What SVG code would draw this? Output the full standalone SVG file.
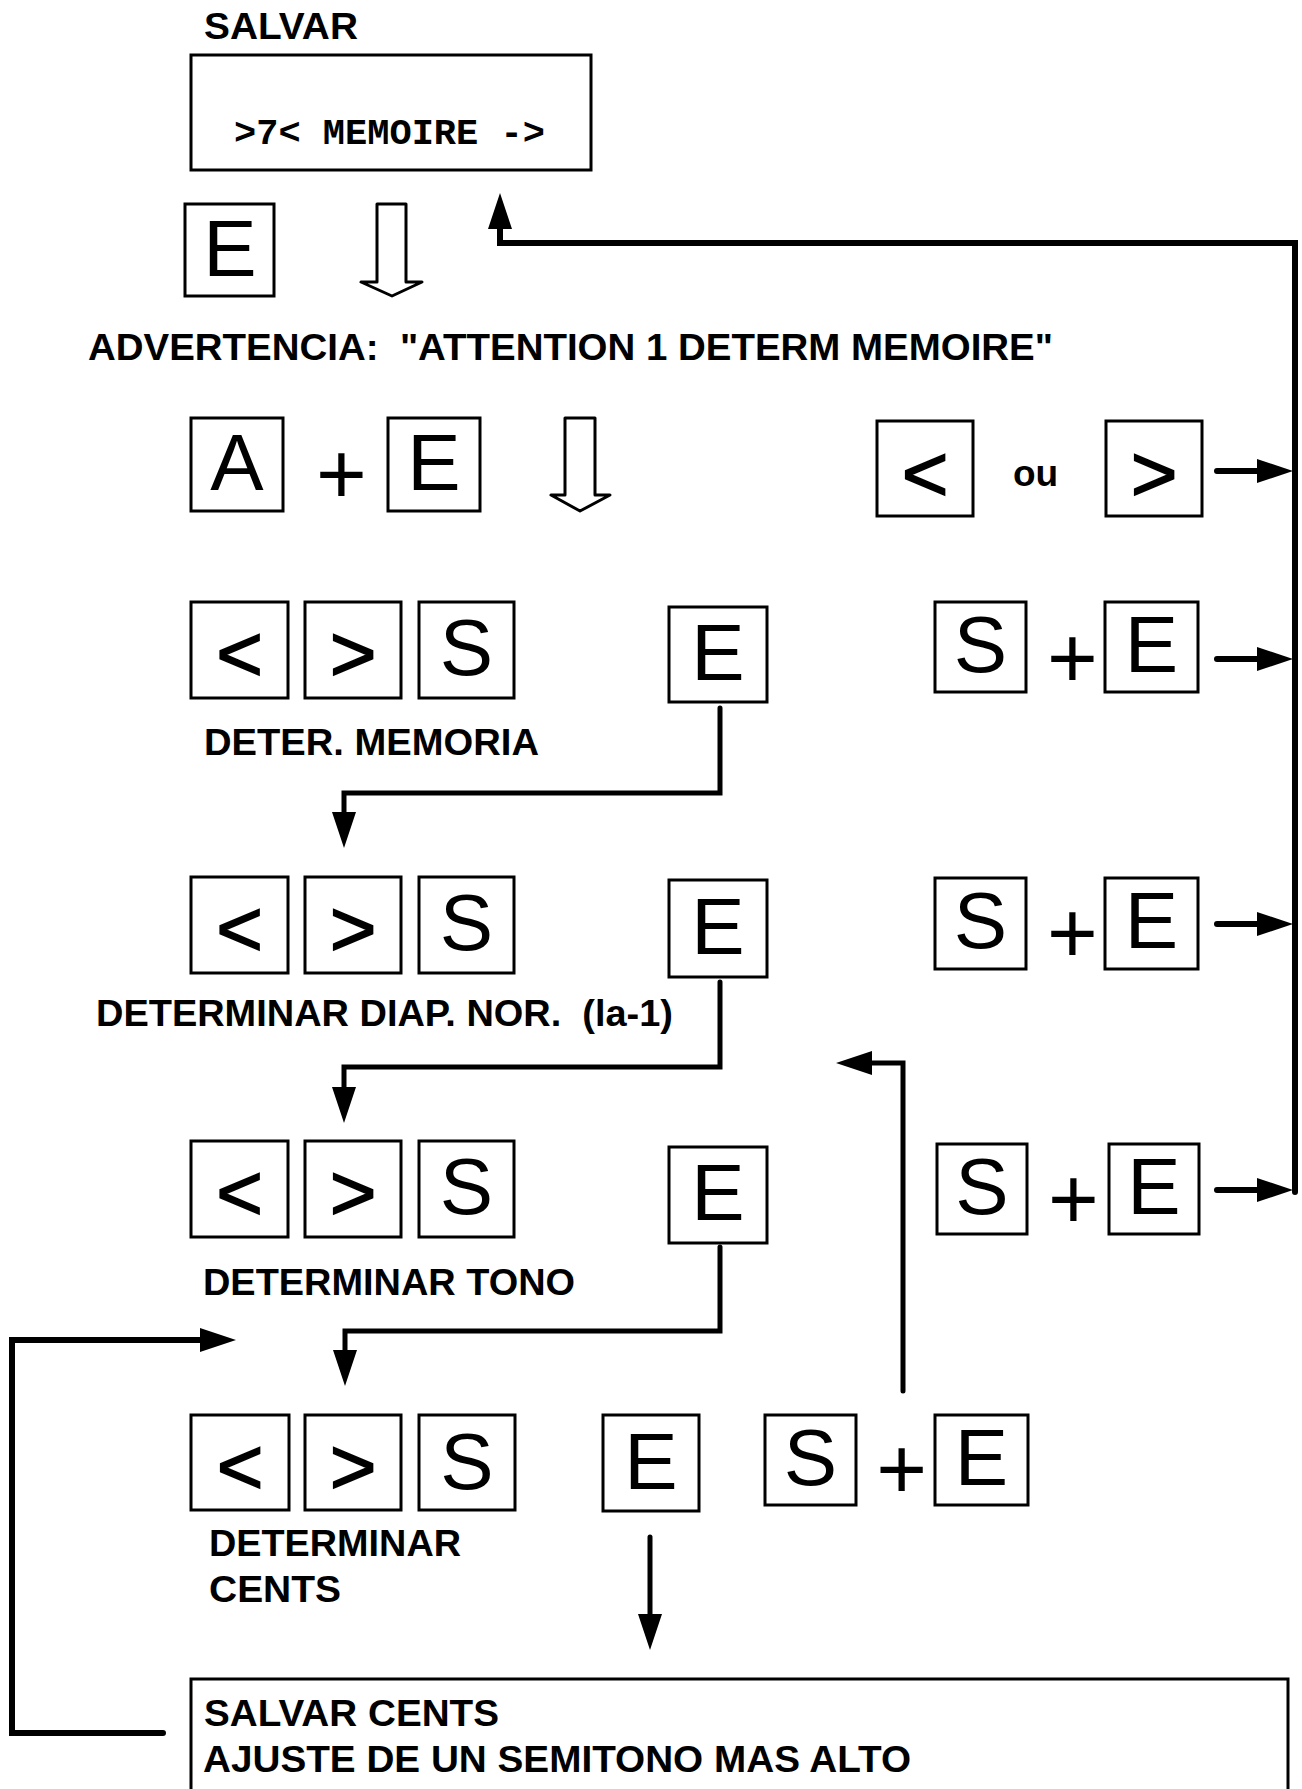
<svg xmlns="http://www.w3.org/2000/svg" width="1302" height="1789" viewBox="0 0 1302 1789">
<style>
.box{fill:#fff;stroke:#000;stroke-width:3}
.key{font-family:"Liberation Sans",Arial,sans-serif;font-size:80px;fill:#000;text-anchor:middle}
.arw{stroke:#000;stroke-width:1.6;stroke-linejoin:miter}
.plus{font-family:"Liberation Sans",Arial,sans-serif;font-size:87px;fill:#000;text-anchor:middle}
.lbl{font-family:"Liberation Sans",Arial,sans-serif;font-weight:bold;font-size:37px;fill:#000}
.mono{font-family:"Liberation Mono","Courier New",monospace;font-weight:bold;font-size:37px;fill:#000}
.hollow{fill:#fff;stroke:#000;stroke-width:3;stroke-linejoin:round}
.conn{fill:none;stroke:#000;stroke-width:5;stroke-linejoin:miter;stroke-linecap:round}
.loop{fill:none;stroke:#000;stroke-width:6;stroke-linejoin:miter;stroke-linecap:round}
</style>
<defs>
<marker id="ah" markerUnits="userSpaceOnUse" markerWidth="37" markerHeight="25" refX="0" refY="12" orient="auto" overflow="visible">
<path d="M0,0 L36,12 L0,24 z" fill="#000"/>
</marker>
</defs>
<rect width="1302" height="1789" fill="#fff"/>

<g id="salvar">
<text class="lbl" x="204" y="39" textLength="154" lengthAdjust="spacingAndGlyphs">SALVAR</text>
<rect class="box" x="191" y="55" width="400" height="115"/>
<text class="mono" x="234" y="144" xml:space="preserve">&gt;7&lt; MEMOIRE -&gt;</text>
</g>

<g id="key-e-top"><rect class="box" x="185" y="204" width="89" height="92"/><text class="key" x="230" y="276">E</text></g>
<g id="hollow-arrow-1"><polygon class="hollow" points="377,204 406,204 406,282 422,282 392,296 361,282 377,282"/></g>

<g id="advertencia"><text class="lbl" x="88" y="360" xml:space="preserve" textLength="965" lengthAdjust="spacingAndGlyphs">ADVERTENCIA:  "ATTENTION 1 DETERM MEMOIRE"</text></g>

<g id="row2-a"><rect class="box" x="191" y="418" width="92" height="93"/><text class="key" x="237" y="490">A</text></g>
<g id="row2-plus"><text class="plus" x="341.5" y="504">+</text></g>
<g id="row2-e"><rect class="box" x="388" y="418" width="92" height="93"/><text class="key" x="434" y="490">E</text></g>
<g id="hollow-arrow-2"><polygon class="hollow" points="565,418 595,418 595,495 610,495 580,511 551,495 565,495"/></g>
<g id="row2-lt"><rect class="box" x="877" y="421" width="96" height="95"/><text class="key arw" x="925" y="501">&lt;</text></g>
<g id="row2-ou"><text class="lbl" x="1013" y="486">ou</text></g>
<g id="row2-gt"><rect class="box" x="1106" y="421" width="96" height="95"/><text class="key arw" x="1154" y="501">&gt;</text></g>

<g id="row3-lt"><rect class="box" x="191" y="602" width="97" height="96"/><text class="key arw" x="239.5" y="681">&lt;</text></g>
<g id="row3-gt"><rect class="box" x="305" y="602" width="96" height="96"/><text class="key arw" x="353" y="681">&gt;</text></g>
<g id="row3-s"><rect class="box" x="419" y="602" width="95" height="96"/><text class="key" x="466.5" y="675">S</text></g>
<g id="row3-e"><rect class="box" x="669" y="607" width="98" height="95"/><text class="key" x="718" y="680">E</text></g>
<g id="row3-label"><text class="lbl" x="204" y="755" textLength="335" lengthAdjust="spacingAndGlyphs">DETER. MEMORIA</text></g>
<g id="row3-se-s"><rect class="box" x="935" y="602" width="91" height="90"/><text class="key" x="980.5" y="672">S</text></g>
<g id="row3-se-plus"><text class="plus" x="1072.5" y="688">+</text></g>
<g id="row3-se-e"><rect class="box" x="1105" y="602" width="93" height="90"/><text class="key" x="1151.5" y="672">E</text></g>

<g id="row4-lt"><rect class="box" x="191" y="877" width="97" height="96"/><text class="key arw" x="239.5" y="956">&lt;</text></g>
<g id="row4-gt"><rect class="box" x="305" y="877" width="96" height="96"/><text class="key arw" x="353" y="956">&gt;</text></g>
<g id="row4-s"><rect class="box" x="419" y="877" width="95" height="96"/><text class="key" x="466.5" y="950">S</text></g>
<g id="row4-e"><rect class="box" x="669" y="880" width="98" height="97"/><text class="key" x="718" y="954">E</text></g>
<g id="row4-label"><text class="lbl" x="96" y="1026" xml:space="preserve" textLength="577" lengthAdjust="spacingAndGlyphs">DETERMINAR DIAP. NOR.  (la-1)</text></g>
<g id="row4-se-s"><rect class="box" x="935" y="878" width="91" height="91"/><text class="key" x="980.5" y="948">S</text></g>
<g id="row4-se-plus"><text class="plus" x="1072.5" y="963">+</text></g>
<g id="row4-se-e"><rect class="box" x="1105" y="878" width="93" height="91"/><text class="key" x="1151.5" y="948">E</text></g>

<g id="row5-lt"><rect class="box" x="191" y="1141" width="97" height="96"/><text class="key arw" x="239.5" y="1220">&lt;</text></g>
<g id="row5-gt"><rect class="box" x="305" y="1141" width="96" height="96"/><text class="key arw" x="353" y="1220">&gt;</text></g>
<g id="row5-s"><rect class="box" x="419" y="1141" width="95" height="96"/><text class="key" x="466.5" y="1214">S</text></g>
<g id="row5-e"><rect class="box" x="669" y="1147" width="98" height="96"/><text class="key" x="718" y="1220">E</text></g>
<g id="row5-label"><text class="lbl" x="203" y="1295" textLength="372" lengthAdjust="spacingAndGlyphs">DETERMINAR TONO</text></g>
<g id="row5-se-s"><rect class="box" x="937" y="1144" width="90" height="90"/><text class="key" x="982" y="1214">S</text></g>
<g id="row5-se-plus"><text class="plus" x="1073.5" y="1229">+</text></g>
<g id="row5-se-e"><rect class="box" x="1109" y="1144" width="90" height="90"/><text class="key" x="1154" y="1214">E</text></g>

<g id="row6-lt"><rect class="box" x="191" y="1415" width="98" height="95"/><text class="key arw" x="240" y="1494">&lt;</text></g>
<g id="row6-gt"><rect class="box" x="305" y="1415" width="96" height="95"/><text class="key arw" x="353" y="1494">&gt;</text></g>
<g id="row6-s"><rect class="box" x="419" y="1415" width="96" height="95"/><text class="key" x="467" y="1489">S</text></g>
<g id="row6-e"><rect class="box" x="603" y="1415" width="96" height="96"/><text class="key" x="651" y="1489">E</text></g>
<g id="row6-se-s"><rect class="box" x="765" y="1415" width="91" height="90"/><text class="key" x="810.5" y="1485">S</text></g>
<g id="row6-se-plus"><text class="plus" x="901.7" y="1499">+</text></g>
<g id="row6-se-e"><rect class="box" x="935" y="1415" width="93" height="90"/><text class="key" x="981.5" y="1485">E</text></g>
<g id="row6-label">
<text class="lbl" x="209" y="1556" textLength="252" lengthAdjust="spacingAndGlyphs">DETERMINAR</text>
<text class="lbl" x="209" y="1602" textLength="132" lengthAdjust="spacingAndGlyphs">CENTS</text>
</g>

<g id="salvar-cents">
<rect class="box" x="191" y="1679" width="1097" height="200"/>
<text class="lbl" x="204" y="1726" textLength="295" lengthAdjust="spacingAndGlyphs">SALVAR CENTS</text>
<text class="lbl" x="203" y="1772" textLength="708" lengthAdjust="spacingAndGlyphs">AJUSTE DE UN SEMITONO MAS ALTO</text>
</g>

<g id="connectors">
<path class="loop" d="M1295,1192 V243 H500 V229" marker-end="url(#ah)"/>
<path class="loop" d="M1217,471 H1257" marker-end="url(#ah)"/>
<path class="loop" d="M1217,659 H1257" marker-end="url(#ah)"/>
<path class="loop" d="M1217,924 H1257" marker-end="url(#ah)"/>
<path class="loop" d="M1217,1190 H1257" marker-end="url(#ah)"/>
<path class="conn" d="M720,708 V793 H344 V812" marker-end="url(#ah)"/>
<path class="conn" d="M720,982 V1067 H344 V1087" marker-end="url(#ah)"/>
<path class="conn" d="M720,1247 V1331 H345 V1350" marker-end="url(#ah)"/>
<path class="conn" d="M903,1391 V1063 H872" marker-end="url(#ah)"/>
<path class="loop" d="M163,1733 H12 V1340 H200" marker-end="url(#ah)"/>
<path class="conn" d="M650,1537 V1614" marker-end="url(#ah)"/>
</g>
</svg>
